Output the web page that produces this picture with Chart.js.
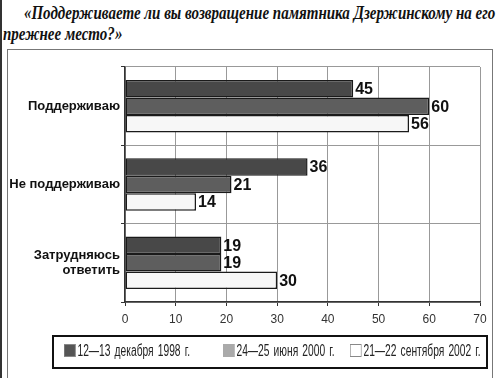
<!DOCTYPE html>
<html lang="ru">
<head>
<meta charset="UTF-8">
<script src="https://cdn.jsdelivr.net/npm/chart.js"></script>
<style>
  body { margin: 0; background: #fff; }
  #wrap { position: relative; width: 500px; height: 378px; overflow: hidden; }
  .title { position: absolute; left: 3px; top: 3px; white-space: nowrap; font-family: 'Liberation Serif', 'Times New Roman', serif; font-weight: bold; font-style: italic; font-size: 18px; line-height: 21px; color: #111; transform: scaleX(0.835); transform-origin: left top; }
  .edge { position: absolute; left: 0; top: 0; width: 2px; height: 378px; background: #333; }
  .box { position: absolute; left: 7px; top: 49px; width: 484px; height: 340px; border: 1px solid #777; }
  .legend { position: absolute; left: 52px; top: 335px; width: 432px; height: 30px; border: 2px solid #111; font-family: 'Liberation Sans', Arial, sans-serif; font-size: 16px; color: #222; }
  .legend span { position: absolute; top: 5px; white-space: nowrap; transform: scaleX(0.64); transform-origin: left center; word-spacing: 2px; }
  .legend i { display: inline-block; width: 16px; height: 11px; margin-right: 3px; vertical-align: -1px; border: 1px solid #888; }
  canvas { position: absolute; left: 0; top: 0; }
</style>
</head>
<body>
<div id="wrap">
  <div class="edge"></div>
  <div class="box"></div>
  <div class="title"><span style="padding-left:25px">«Поддерживаете ли вы возвращение памятника Дзержинскому на его</span><br>прежнее место?»</div>
  <canvas id="c" width="500" height="378"></canvas>
  <div class="legend">
    <span style="left:10px"><i style="background:#555"></i>12—13 декабря 1998 г.</span>
    <span style="left:169px"><i style="background:#aaa;border-color:#aaa"></i>24—25 июня 2000 г.</span>
    <span style="left:296px"><i style="background:#fff"></i>21—22 сентября 2002 г.</span>
  </div>
</div>
<script>
// данные опроса
const categories = [['Поддерживаю'], ['Не поддерживаю'], ['Затрудняюсь', 'ответить']];
const seriesNames = ['12—13 декабря 1998 г.', '24—25 июня 2000 г.', '21—22 сентября 2002 г.'];
const dec1998 = [45, 36, 19];
const jun2000 = [60, 21, 19];
const sep2002 = [56, 14, 30];
const xTicks = [0, 10, 20, 30, 40, 50, 60, 70];

const barLabels = {
  id: 'barLabels',
  afterDatasetsDraw(chart) {
    const ctx = chart.ctx;
    ctx.save();
    ctx.font = 'bold 16px "Liberation Sans", Arial, sans-serif';
    ctx.fillStyle = '#111';
    ctx.textBaseline = 'middle';
    chart.data.datasets.forEach((ds, i) => {
      chart.getDatasetMeta(i).data.forEach((bar, j) => {
        ctx.fillText(ds.data[j], bar.x + 2, bar.y + 1);
      });
    });
    ctx.restore();
  }
};

new Chart(document.getElementById('c'), {
  type: 'bar',
  data: {
    labels: categories,
    datasets: [
      { label: seriesNames[0], data: dec1998, backgroundColor: '#484848' },
      { label: seriesNames[1], data: jun2000, backgroundColor: '#5e5e5e' },
      { label: seriesNames[2], data: sep2002, backgroundColor: '#f7f7f7' }
    ].map(d => Object.assign(d, { borderColor: '#1a1a1a', borderWidth: 1.5, borderSkipped: false, barPercentage: 1, categoryPercentage: 0.67 }))
  },
  options: {
    indexAxis: 'y',
    responsive: false,
    animation: false,
    layout: { padding: { left: 0, right: 20, top: 67, bottom: 46 } },
    plugins: { legend: { display: false }, tooltip: { enabled: false } },
    scales: {
      x: {
        min: 0, max: 70,
        afterBuildTicks: s => { s.ticks = xTicks.map(v => ({ value: v })); },
        afterFit: s => { s.height = 30; },
        grid: { color: '#999', lineWidth: 1, tickLength: 4, tickColor: '#333' },
        border: { color: '#333', width: 1.5 },
        ticks: { color: '#333', padding: 6, font: { family: '"Liberation Sans Narrow", "Arial Narrow", sans-serif', size: 12 } }
      },
      y: {
        afterFit: s => { s.width = 125; },
        grid: { color: '#999', lineWidth: 1, tickLength: 4, tickColor: '#333' },
        border: { color: '#333', width: 1.5 },
        ticks: { color: '#111', padding: 1, font: { family: '"Liberation Sans", Arial, sans-serif', size: 13, weight: 'bold' } }
      }
    }
  },
  plugins: [barLabels]
});
</script>
</body>
</html>
